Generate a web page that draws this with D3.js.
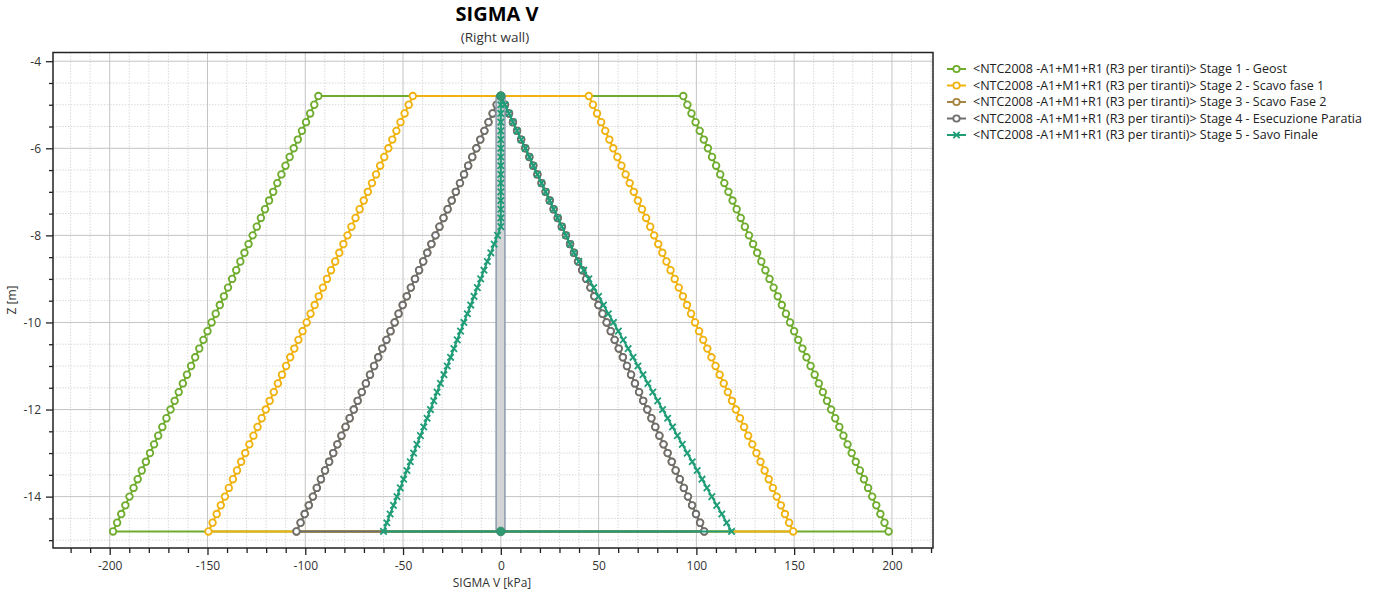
<!DOCTYPE html>
<html>
<head>
<meta charset="utf-8">
<script src="https://cdn.jsdelivr.net/npm/d3@7"></script>
<style>
    body { margin: 0; background: #fff; }
    text { font-family: "Open Sans", "Noto Sans", sans-serif; }
</style>
</head>
<body>
<svg id="chart" width="1375" height="593"></svg>
<script>
// profondità dei nodi (m)
const depths = [-4.8, -5.0, -5.2, -5.4, -5.6, -5.8, -6.0, -6.2, -6.4, -6.6, -6.8, -7.0, -7.2, -7.4, -7.6, -7.8, -8.0, -8.2, -8.4, -8.6, -8.8, -9.0, -9.2, -9.4, -9.6, -9.8, -10.0, -10.2, -10.4, -10.6, -10.8, -11.0, -11.2, -11.4, -11.6, -11.8, -12.0, -12.2, -12.4, -12.6, -12.8, -13.0, -13.2, -13.4, -13.6, -13.8, -14.0, -14.2, -14.4, -14.6, -14.8];

// Stage 1 - Geost
const stage1Left = [-93.3, -95.4, -97.5, -99.6, -101.7, -103.8, -105.9, -108.0, -110.1, -112.2, -114.3, -116.4, -118.5, -120.6, -122.7, -124.8, -126.9, -129.0, -131.1, -133.2, -135.3, -137.4, -139.5, -141.6, -143.7, -145.8, -147.9, -150.0, -152.1, -154.2, -156.3, -158.4, -160.5, -162.6, -164.7, -166.8, -168.9, -171.0, -173.1, -175.2, -177.3, -179.4, -181.5, -183.6, -185.7, -187.8, -189.9, -192.0, -194.1, -196.2, -198.3];
const stage1Right = [93.3, 95.4, 97.5, 99.6, 101.7, 103.8, 105.9, 108.0, 110.1, 112.2, 114.3, 116.4, 118.5, 120.6, 122.7, 124.8, 126.9, 129.0, 131.1, 133.2, 135.3, 137.4, 139.5, 141.6, 143.7, 145.8, 147.9, 150.0, 152.1, 154.2, 156.3, 158.4, 160.5, 162.6, 164.7, 166.8, 168.9, 171.0, 173.1, 175.2, 177.3, 179.4, 181.5, 183.6, 185.7, 187.8, 189.9, 192.0, 194.1, 196.2, 198.3];

// Stage 2 - Scavo fase 1
const stage2Left = [-45.0, -47.1, -49.2, -51.3, -53.4, -55.5, -57.5, -59.6, -61.7, -63.8, -65.9, -68.0, -70.1, -72.2, -74.3, -76.4, -78.4, -80.5, -82.6, -84.7, -86.8, -88.9, -91.0, -93.1, -95.2, -97.3, -99.3, -101.4, -103.5, -105.6, -107.7, -109.8, -111.9, -114.0, -116.1, -118.2, -120.2, -122.3, -124.4, -126.5, -128.6, -130.7, -132.8, -134.9, -137.0, -139.1, -141.1, -143.2, -145.3, -147.4, -149.5];
const stage2Right = [45.0, 47.1, 49.2, 51.3, 53.4, 55.5, 57.5, 59.6, 61.7, 63.8, 65.9, 68.0, 70.1, 72.2, 74.3, 76.4, 78.4, 80.5, 82.6, 84.7, 86.8, 88.9, 91.0, 93.1, 95.2, 97.3, 99.3, 101.4, 103.5, 105.6, 107.7, 109.8, 111.9, 114.0, 116.1, 118.2, 120.2, 122.3, 124.4, 126.5, 128.6, 130.7, 132.8, 134.9, 137.0, 139.1, 141.1, 143.2, 145.3, 147.4, 149.5];

// Stage 3 - Scavo Fase 2
const stage3Left = [0.0, -2.1, -4.2, -6.3, -8.4, -10.5, -12.5, -14.6, -16.7, -18.8, -20.9, -23.0, -25.1, -27.2, -29.3, -31.4, -33.4, -35.5, -37.6, -39.7, -41.8, -43.9, -46.0, -48.1, -50.2, -52.3, -54.3, -56.4, -58.5, -60.6, -62.7, -64.8, -66.9, -69.0, -71.1, -73.2, -75.2, -77.3, -79.4, -81.5, -83.6, -85.7, -87.8, -89.9, -92.0, -94.1, -96.1, -98.2, -100.3, -102.4, -104.5];
const stage3Right = [0.0, 2.1, 4.2, 6.2, 8.3, 10.4, 12.5, 14.6, 16.6, 18.7, 20.8, 22.9, 25.0, 27.0, 29.1, 31.2, 33.3, 35.4, 37.4, 39.5, 41.6, 43.7, 45.8, 47.8, 49.9, 52.0, 54.1, 56.2, 58.2, 60.3, 62.4, 64.5, 66.6, 68.6, 70.7, 72.8, 74.9, 77.0, 79.0, 81.1, 83.2, 85.3, 87.4, 89.4, 91.5, 93.6, 95.7, 97.8, 99.8, 101.9, 104.0];

// Stage 4 - Esecuzione Paratia
const stage4Left = [0.0, -2.1, -4.2, -6.3, -8.4, -10.5, -12.5, -14.6, -16.7, -18.8, -20.9, -23.0, -25.1, -27.2, -29.3, -31.4, -33.4, -35.5, -37.6, -39.7, -41.8, -43.9, -46.0, -48.1, -50.2, -52.3, -54.3, -56.4, -58.5, -60.6, -62.7, -64.8, -66.9, -69.0, -71.1, -73.2, -75.2, -77.3, -79.4, -81.5, -83.6, -85.7, -87.8, -89.9, -92.0, -94.1, -96.1, -98.2, -100.3, -102.4, -104.5];
const stage4Right = [0.0, 2.1, 4.2, 6.2, 8.3, 10.4, 12.5, 14.6, 16.6, 18.7, 20.8, 22.9, 25.0, 27.0, 29.1, 31.2, 33.3, 35.4, 37.4, 39.5, 41.6, 43.7, 45.8, 47.8, 49.9, 52.0, 54.1, 56.2, 58.2, 60.3, 62.4, 64.5, 66.6, 68.6, 70.7, 72.8, 74.9, 77.0, 79.0, 81.1, 83.2, 85.3, 87.4, 89.4, 91.5, 93.6, 95.7, 97.8, 99.8, 101.9, 104.0];

// Stage 5 - Savo Finale
const stage5Left = [0.0, 0.0, 0.0, 0.0, 0.0, 0.0, 0.0, 0.0, 0.0, 0.0, 0.0, 0.0, 0.0, 0.0, 0.0, 0.0, -1.7, -3.4, -5.1, -6.9, -8.6, -10.3, -12.0, -13.7, -15.4, -17.1, -18.9, -20.6, -22.3, -24.0, -25.7, -27.4, -29.1, -30.9, -32.6, -34.3, -36.0, -37.7, -39.4, -41.1, -42.9, -44.6, -46.3, -48.0, -49.7, -51.4, -53.1, -54.9, -56.6, -58.3, -60.0];
const stage5Right = [0.0, 2.1, 4.2, 6.2, 8.3, 10.4, 12.5, 14.6, 16.6, 18.7, 20.8, 22.9, 25.0, 27.0, 29.1, 31.2, 33.3, 35.4, 37.4, 39.9, 42.4, 45.0, 47.5, 50.0, 52.5, 55.0, 57.6, 60.1, 62.6, 65.1, 67.6, 70.1, 72.7, 75.2, 77.7, 80.2, 82.7, 85.3, 87.8, 90.3, 92.8, 95.3, 97.9, 100.4, 102.9, 105.4, 107.9, 110.4, 113.0, 115.5, 118.0];

// paratia (spessore in kPa sul grafico) e nodi estremi
const wallX = [-2.4, 2.1];
const wallZ = [-4.8, -14.8];

const legendLabels = [
    "<NTC2008 -A1+M1+R1 (R3 per tiranti)> Stage 1 - Geost",
    "<NTC2008 -A1+M1+R1 (R3 per tiranti)> Stage 2 - Scavo fase 1",
    "<NTC2008 -A1+M1+R1 (R3 per tiranti)> Stage 3 - Scavo Fase 2",
    "<NTC2008 -A1+M1+R1 (R3 per tiranti)> Stage 4 - Esecuzione Paratia",
    "<NTC2008 -A1+M1+R1 (R3 per tiranti)> Stage 5 - Savo Finale"
];

const xMajor = [-200, -150, -100, -50, 0, 50, 100, 150, 200];
const xMinor = [-220, -210, -190, -180, -170, -160, -140, -130, -120, -110, -90, -80, -70, -60, -40, -30, -20, -10, 10, 20, 30, 40, 60, 70, 80, 90, 110, 120, 130, 140, 160, 170, 180, 190, 210, 220];
const yMajor = [-4, -6, -8, -10, -12, -14];
const yMinor = [-4.5, -5, -5.5, -6.5, -7, -7.5, -8.5, -9, -9.5, -10.5, -11, -11.5, -12.5, -13, -13.5, -14.5, -15];

const series = [
    { left: stage1Left, right: stage1Right, color: "#6fac2e", marker: "circle" },
    { left: stage2Left, right: stage2Right, color: "#efb20e", marker: "circle" },
    { left: stage3Left, right: stage3Right, color: "#a7843f", marker: "circle" },
    { left: stage4Left, right: stage4Right, color: "#6e6e6e", marker: "circle" },
    { left: stage5Left, right: stage5Right, color: "#1f9d77", marker: "cross" }
];

const svg = d3.select("#chart");

// aire du graphique
const plot = { left: 53, right: 933, top: 52.5, bottom: 548 };

const x = d3.scaleLinear()
.domain([-229, 221])
.range([plot.left, plot.right]);

const y = d3.scaleLinear()
.domain([-15.18, -3.80])
.range([plot.bottom, plot.top]);

/**
 * grille mineure (pointillés) et majeure
 */
function drawGrid() {
    const g = svg.append("g");

    g.selectAll(".vminor")
    .data(xMinor)
    .enter()
    .append("line")
    .attr("x1", d => x(d)).attr("x2", d => x(d))
    .attr("y1", plot.top).attr("y2", plot.bottom)
    .attr("stroke", "#d9d9d9")
    .attr("stroke-dasharray", "1.5,1.5");

    g.selectAll(".hminor")
    .data(yMinor)
    .enter()
    .append("line")
    .attr("x1", plot.left).attr("x2", plot.right)
    .attr("y1", d => y(d)).attr("y2", d => y(d))
    .attr("stroke", "#d9d9d9")
    .attr("stroke-dasharray", "1.5,1.5");

    g.selectAll(".vmajor")
    .data(xMajor)
    .enter()
    .append("line")
    .attr("x1", d => x(d)).attr("x2", d => x(d))
    .attr("y1", plot.top).attr("y2", plot.bottom)
    .attr("stroke", "#c4c4c4");

    g.selectAll(".hmajor")
    .data(yMajor)
    .enter()
    .append("line")
    .attr("x1", plot.left).attr("x2", plot.right)
    .attr("y1", d => y(d)).attr("y2", d => y(d))
    .attr("stroke", "#c4c4c4");
}

/**
 * axes, graduations et titres
 */
function drawAxes() {
    const fmt = d => String(d);

    svg.append("g")
    .attr("transform", `translate(0, ${plot.bottom})`)
    .call(d3.axisBottom(x).tickValues(xMinor).tickSize(5).tickFormat(""))
    .call(g => g.select(".domain").remove());

    svg.append("g")
    .attr("class", "axis")
    .attr("transform", `translate(0, ${plot.bottom})`)
    .call(d3.axisBottom(x).tickValues(xMajor).tickSize(7).tickPadding(6).tickFormat(fmt))
    .call(g => g.select(".domain").remove());

    svg.append("g")
    .attr("transform", `translate(${plot.left}, 0)`)
    .call(d3.axisLeft(y).tickValues(yMinor).tickSize(4).tickFormat(""))
    .call(g => g.select(".domain").remove());

    svg.append("g")
    .attr("class", "axis")
    .attr("transform", `translate(${plot.left}, 0)`)
    .call(d3.axisLeft(y).tickValues(yMajor).tickSize(7).tickPadding(5).tickFormat(fmt))
    .call(g => g.select(".domain").remove());

    svg.selectAll(".tick line").attr("stroke", "#222").attr("stroke-width", 1.3);
    svg.selectAll(".axis text")
    .style("font-size", "12px")
    .style("font-family", "'Open Sans', sans-serif")
    .attr("fill", "#333");

    // cadre
    svg.append("rect")
    .attr("x", plot.left)
    .attr("y", plot.top)
    .attr("width", plot.right - plot.left)
    .attr("height", plot.bottom - plot.top)
    .attr("fill", "none")
    .attr("stroke", "#222")
    .attr("stroke-width", 1.5);

    svg.append("text")
    .attr("x", 497)
    .attr("y", 21)
    .attr("text-anchor", "middle")
    .style("font-size", "20px")
    .style("font-weight", "bold")
    .text("SIGMA V");

    svg.append("text")
    .attr("x", 495)
    .attr("y", 42)
    .attr("text-anchor", "middle")
    .style("font-size", "13.5px")
    .attr("fill", "#333")
    .text("(Right wall)");

    svg.append("text")
    .attr("x", 492)
    .attr("y", 587)
    .attr("text-anchor", "middle")
    .style("font-size", "12px")
    .attr("fill", "#333")
    .text("SIGMA V [kPa]");

    svg.append("text")
    .attr("transform", "rotate(-90)")
    .attr("x", -300)
    .attr("y", 16)
    .attr("text-anchor", "middle")
    .style("font-size", "12px")
    .attr("fill", "#333")
    .text("Z [m]");
}

// symbole en croix
function crossPath(cx, cy, s) {
    return `M${cx - s},${cy - s}L${cx + s},${cy + s}M${cx - s},${cy + s}L${cx + s},${cy - s}`;
}

function drawMarkers(g, pts, s) {
    if (s.marker === "circle") {
        g.selectAll("circle")
        .data(pts)
        .enter()
        .append("circle")
        .attr("cx", d => x(d[0]))
        .attr("cy", d => y(d[1]))
        .attr("r", 3.3)
        .attr("fill", "#fff")
        .attr("stroke", s.color)
        .attr("stroke-width", 1.8);
    } else {
        g.selectAll("path.mk")
        .data(pts)
        .enter()
        .append("path")
        .attr("class", "mk")
        .attr("d", d => crossPath(x(d[0]), y(d[1]), 3.2))
        .attr("stroke", s.color)
        .attr("stroke-width", 1.8);
    }
}

/**
 * courbes de chaque stage : côté gauche en descendant, côté droit en remontant
 */
function drawSeries(s) {
    const leftPts = depths.map((z, i) => [s.left[i], z]);
    const rightPts = depths.map((z, i) => [s.right[i], z]).reverse();
    const pts = leftPts.concat(rightPts);

    const line = d3.line()
    .x(d => x(d[0]))
    .y(d => y(d[1]));

    const g = svg.append("g");

    g.append("path")
    .attr("d", line(pts) + "Z")
    .attr("fill", "none")
    .attr("stroke", s.color)
    .attr("stroke-width", 2);

    drawMarkers(g, pts, s);
}

function drawWall() {
    svg.append("rect")
    .attr("x", x(wallX[0]))
    .attr("y", y(wallZ[0]))
    .attr("width", x(wallX[1]) - x(wallX[0]))
    .attr("height", y(wallZ[1]) - y(wallZ[0]))
    .attr("fill", "#d3d4d6")
    .attr("stroke", "#8e9aae")
    .attr("stroke-width", 1.5);
}

function drawWallNodes() {
    svg.selectAll(".node")
    .data(wallZ)
    .enter()
    .append("circle")
    .attr("class", "node")
    .attr("cx", x(0))
    .attr("cy", d => y(d))
    .attr("r", 4.3)
    .attr("fill", "#2f9a72")
    .attr("stroke", "#3b8a68")
    .attr("stroke-width", 1);
}

function drawLegend() {
    const g = svg.append("g");

    series.forEach(function(s, i) {
        const cy = 69 + i * 16.5;

        g.append("line")
        .attr("x1", 947).attr("x2", 966)
        .attr("y1", cy).attr("y2", cy)
        .attr("stroke", s.color)
        .attr("stroke-width", 2);

        if (s.marker === "circle") {
            g.append("circle")
            .attr("cx", 956.5).attr("cy", cy)
            .attr("r", 3.2)
            .attr("fill", "#fff")
            .attr("stroke", s.color)
            .attr("stroke-width", 1.8);
        } else {
            g.append("path")
            .attr("d", crossPath(956.5, cy, 3.2))
            .attr("stroke", s.color)
            .attr("stroke-width", 1.8);
        }

        g.append("text")
        .attr("x", 973)
        .attr("y", cy + 4.3)
        .style("font-size", "12.5px")
        .attr("fill", "#222")
        .text(legendLabels[i]);
    });
}

drawGrid();
drawAxes();
series.slice(0, 4).forEach(drawSeries);
drawWall();
drawSeries(series[4]);
drawWallNodes();
drawLegend();
</script>
</body>
</html>
